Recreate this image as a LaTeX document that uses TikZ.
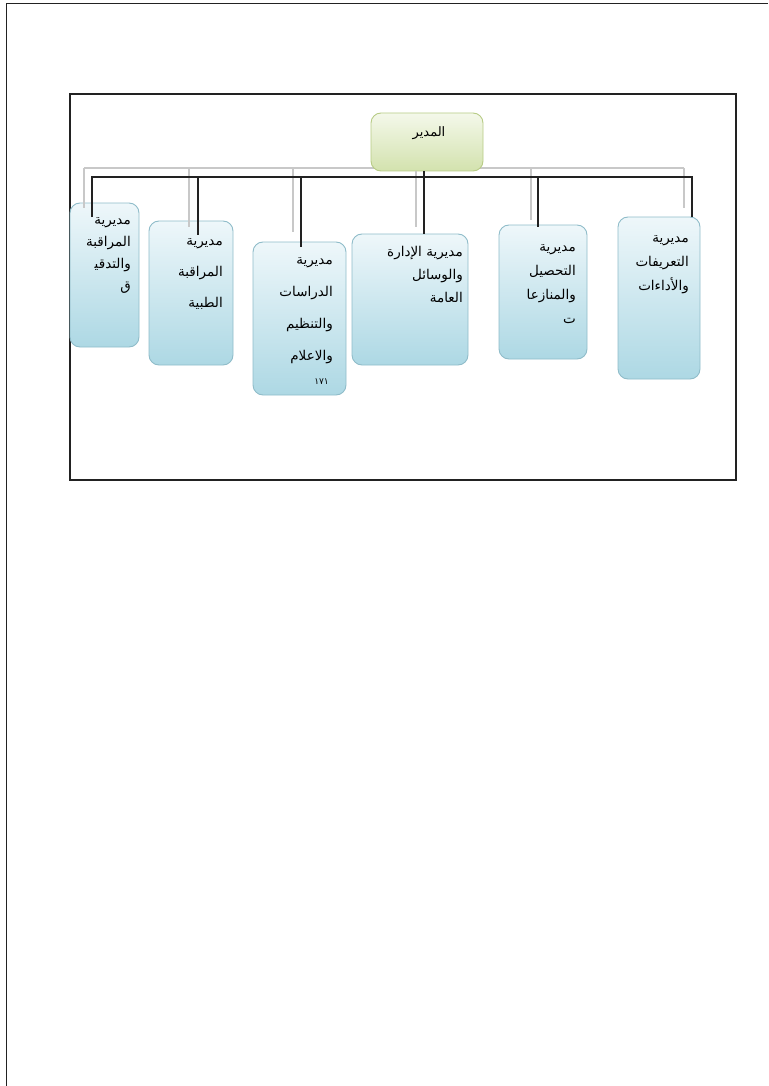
\documentclass[tikz,border=0pt]{standalone}
\usepackage{fontspec}
\newfontfamily\arabicfont[Script=Arabic]{DejaVu Sans}
\TeXXeTstate=1
\newcommand\arln[1]{\beginR #1\endR}
\definecolor{boxtop}{HTML}{EEF7FA}
\definecolor{boxbot}{HTML}{ADD8E4}
\definecolor{boxedge}{HTML}{8FBCC9}
\definecolor{roottop}{HTML}{F4F8EA}
\definecolor{rootbot}{HTML}{D3E2AE}
\definecolor{rootedge}{HTML}{B7CB85}
\definecolor{grayline}{HTML}{C8C8C8}
\definecolor{blkline}{HTML}{222222}
\begin{document}
\begin{tikzpicture}[x=1pt,y=-1pt,
  dirbox/.style={draw=boxedge, line width=0.9pt, rounded corners=10pt, top color=boxtop, bottom color=boxbot, inner sep=0pt},
  rootbox/.style={draw=rootedge, line width=0.9pt, rounded corners=10pt, top color=roottop, bottom color=rootbot, inner sep=0pt},
  atext/.style={font=\arabicfont\fontsize{13.5}{#1}\selectfont, align=right, anchor=north east, inner sep=0pt, text=black},
  graycon/.style={draw=grayline, line width=1.6pt},
  blkcon/.style={draw=blkline, line width=1.5pt}]
\useasboundingbox (0,0) rectangle (768,1086);
% page edges
\draw[line width=0.9pt, blkline] (6,1086) -- (6,3) -- (768,3);
% frame
\draw[line width=1.6pt, blkline] (70,94) rectangle (736,480);

% gray bus (behind root)
\coordinate (gL) at (84,168);
\coordinate (gR) at (684,168);
\draw[graycon] (gL) -- (gR);

% root
\node[rootbox, minimum width=112pt, minimum height=58pt] (root) at (427,142) {};
\node[font=\arabicfont\fontsize{13}{15}\selectfont, inner sep=0pt] (roott) at (429,133) {\arln{المدير}};

% boxes
\node[dirbox, minimum width=69pt, minimum height=144pt] (b1) at (104.5,275) {};
\node[dirbox, minimum width=84pt, minimum height=144pt] (b2) at (191,293) {};
\node[dirbox, minimum width=93pt, minimum height=153pt] (b3) at (299.5,318.5) {};
\node[dirbox, minimum width=116pt, minimum height=131pt] (b4) at (410,299.5) {};
\node[dirbox, minimum width=88pt, minimum height=134pt] (b5) at (543,292) {};
\node[dirbox, minimum width=82pt, minimum height=162pt] (b6) at (659,298) {};

% texts
\node[atext=22] (t1) at (131,217) {\arln{مديرية}\\\arln{المراقبة}\\\arln{والتدقي^^^^200d}\\\arln{ق}};
\node[atext=31] (t2) at (223,238) {\arln{مديرية}\\\arln{المراقبة}\\\arln{الطبية}};
\node[atext=32] (t3) at (333,257) {\arln{مديرية}\\\arln{الدراسات}\\\arln{والتنظيم}\\\arln{والاعلام}};
\node[font=\arabicfont\fontsize{9}{11}\selectfont, anchor=east, inner sep=0pt] (t3b) at (329,382) {\arln{١٧١}};
\node[atext=23] (t4) at (463,246) {\arln{مديرية الإدارة}\\\arln{والوسائل}\\\arln{العامة}};
\node[atext=24] (t5) at (576,244) {\arln{مديرية}\\\arln{التحصيل}\\\arln{والمنازعا}\\\arln{ت}};
\node[atext=24] (t6) at (689,235) {\arln{مديرية}\\\arln{التعريفات}\\\arln{والأداءات}};

% gray drops
\coordinate (g1) at (84,208);
\coordinate (g2a) at (189,168); \coordinate (g2) at (189,227);
\coordinate (g3a) at (293,168); \coordinate (g3) at (293,232);
\coordinate (g4a) at (416,171); \coordinate (g4) at (416,227);
\coordinate (g5a) at (531,168); \coordinate (g5) at (531,220);
\coordinate (g6) at (684,208);
\draw[graycon] (gL) -- (g1);
\draw[graycon] (g2a) -- (g2);
\draw[graycon] (g3a) -- (g3);
\draw[graycon] (g4a) -- (g4);
\draw[graycon] (g5a) -- (g5);
\draw[graycon] (gR) -- (g6);

% black bus
\coordinate (kL) at (92,177);
\coordinate (kR) at (692,177);
\coordinate (k2) at (198,177);
\coordinate (k3) at (301,177);
\coordinate (k5) at (538,177);
\coordinate (r0) at (424,171);
\coordinate (e1) at (92,217);
\coordinate (e2) at (198,235);
\coordinate (e3) at (301,247);
\coordinate (e4) at (424,234);
\coordinate (e5) at (538,227);
\coordinate (e6) at (692,217);
\draw[blkcon] (e1) -- (kL) -- (kR) -- (e6);
\draw[blkcon] (k2) -- (e2);
\draw[blkcon] (k3) -- (e3);
\draw[blkcon] (k5) -- (e5);
\draw[blkcon] (r0) -- (e4);
\end{tikzpicture}
\end{document}
